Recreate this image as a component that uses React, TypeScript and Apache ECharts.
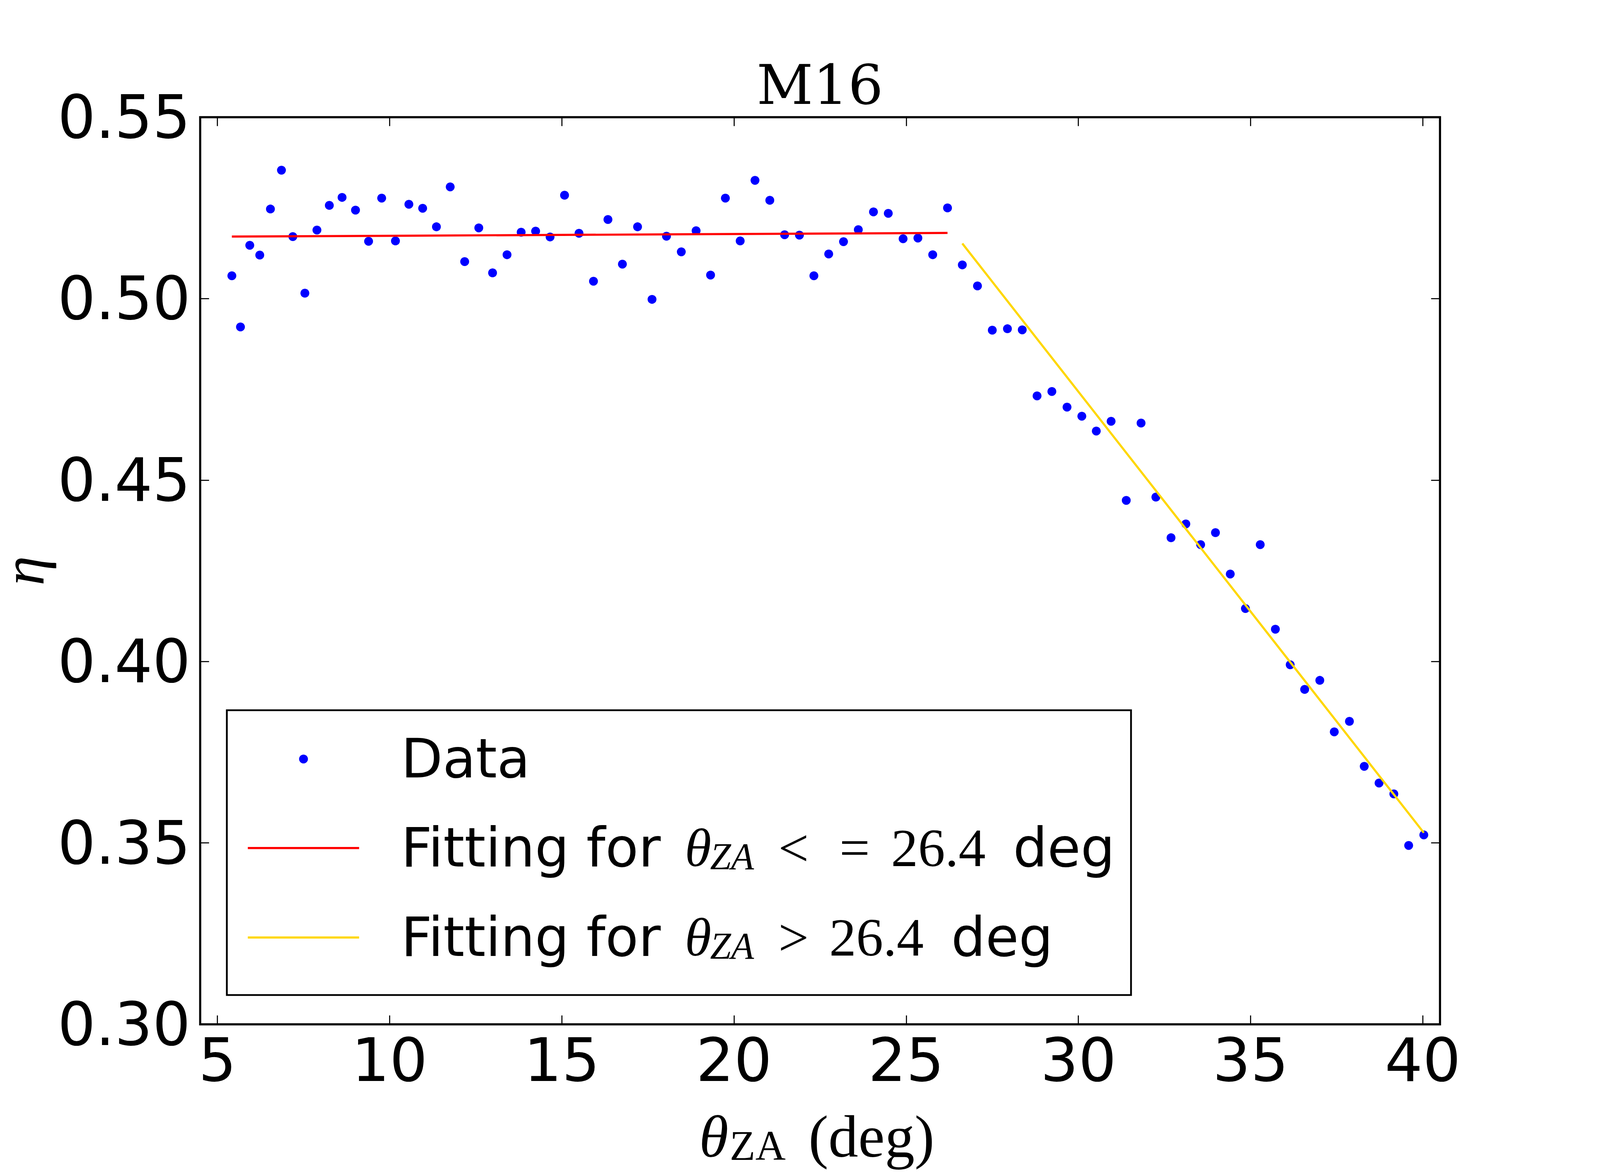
import React, { useEffect, useRef } from 'react';
import * as echarts from 'echarts';

// Zenith angle (deg) of each measurement
const thetaZA = [
  5.42, 5.67, 5.94, 6.23, 6.54, 6.86, 7.19, 7.54, 7.89, 8.25, 8.62, 9.01, 9.39, 9.77,
  10.17, 10.56, 10.96, 11.36, 11.76, 12.18, 12.59, 12.99, 13.41, 13.82,
  14.24, 14.66, 15.08, 15.50, 15.92, 16.34, 16.76, 17.20, 17.62, 18.04, 18.47, 18.90,
  19.32, 19.75, 20.18, 20.61, 21.04, 21.47, 21.90, 22.32, 22.75,
  23.18, 23.61, 24.05, 24.48, 24.91, 25.34, 25.77, 26.20, 26.63, 27.07, 27.50, 27.94,
  28.37, 28.80, 29.23, 29.67,
  30.10, 30.52, 30.95, 31.39, 31.82, 32.25, 32.69, 33.12, 33.55, 33.98, 34.41, 34.85, 35.28,
  35.72, 36.15, 36.57, 37.01, 37.43, 37.87, 38.30, 38.73, 39.16, 39.59, 40.03,
];
// Efficiency eta of each measurement
const eta = [
  0.5063, 0.4922, 0.5147, 0.5120, 0.5247, 0.5354, 0.5171, 0.5015, 0.5189, 0.5257, 0.5279, 0.5244, 0.5158, 0.5277,
  0.5159, 0.5260, 0.5249, 0.5198, 0.5308, 0.5102, 0.5195, 0.5071, 0.5121, 0.5183,
  0.5186, 0.5170, 0.5285, 0.5180, 0.5048, 0.5218, 0.5095, 0.5198, 0.4998, 0.5172, 0.5129, 0.5187,
  0.5065, 0.5277, 0.5159, 0.5326, 0.5271, 0.5176, 0.5175, 0.5063, 0.5123,
  0.5157, 0.5190, 0.5239, 0.5235, 0.5165, 0.5167, 0.5121, 0.5250, 0.5093, 0.5035, 0.4913, 0.4917,
  0.4914, 0.4732, 0.4744, 0.4701,
  0.4676, 0.4635, 0.4662, 0.4444, 0.4657, 0.4453, 0.4341, 0.4379, 0.4322, 0.4355, 0.4241, 0.4146, 0.4322,
  0.4089, 0.3991, 0.3923, 0.3948, 0.3806, 0.3835, 0.3711, 0.3665, 0.3635, 0.3493, 0.3522,
];
// Linear fits
const fitLowX = [5.42, 26.2];
const fitLowY = [0.5171, 0.5181];
const fitHighX = [26.63, 40.03];
const fitHighY = [0.5152, 0.3528];

const xTicks = [5, 10, 15, 20, 25, 30, 35, 40];
const yTicks = [0.3, 0.35, 0.4, 0.45, 0.5, 0.55];
const yTickLabels = ['0.30', '0.35', '0.40', '0.45', '0.50', '0.55'];

const NAME_DATA = 'Data';
const NAME_LOW = 'Fitting for θZA <= 26.4 deg';
const NAME_HIGH = 'Fitting for θZA > 26.4 deg';

const SANS = 'DejaVu Sans';
const MATH = 'Liberation Serif';

export default function App() {
  const ref = useRef<HTMLDivElement>(null);
  useEffect(() => {
    const el = ref.current;
    if (!el) return;
    const W = el.clientWidth || 4500;
    const H = el.clientHeight || 3000;
    // layout designed on a 4500 x 3000 canvas, mapped onto the real viewport
    const sx = W / 4500;
    const sy = H / 3000;
    const X = (v: number) => v * sx;
    const Y = (v: number) => v * sy;
    const S = (v: number) => v * sx;

    const chart = echarts.init(el, undefined, { renderer: 'svg' });

    // legend text
    const LF = S(152);
    const mk = (o: any) => ({ fontSize: LF, lineHeight: LF, fontFamily: SANS, color: '#000', ...o });
    const dataIconW = S(25);
    const dataLeft = X(853.6) - dataIconW / 2;
    const lineLeft = X(697);
    const lineIconW = X(313);
    const textStart = X(1128);
    const legRich = {
      spD: mk({ width: textStart - (dataLeft + dataIconW + 5) }),
      spL: mk({ width: textStart - (lineLeft + lineIconW + 5) }),
      a: mk({}),
      ff: mk({ width: S(798) }),
      th: mk({ fontFamily: MATH, fontStyle: 'italic', width: S(71) }),
      sub: mk({ fontFamily: MATH, fontStyle: 'italic', fontSize: S(106), lineHeight: S(68), width: S(192), verticalAlign: 'bottom' }),
      lt: mk({ fontFamily: MATH, width: S(172) }),
      eq: mk({ fontFamily: MATH, width: S(145) }),
      gt: mk({ fontFamily: MATH, width: S(143) }),
      num: mk({ fontFamily: MATH, width: S(295) }),
      deg: mk({}),
    };
    const legendBase = {
      orient: 'vertical',
      padding: 0,
      selectedMode: false,
      textStyle: { color: '#000', fontSize: LF, fontFamily: SANS, rich: legRich },
      itemStyle: { borderWidth: 0, opacity: 1 },
      z: 5,
    };

    // axis fonts
    const TF = S(168);
    const xNameTop = Y(2961) - 0.8375 * TF;
    const xRich = {
      th: { fontSize: TF, lineHeight: TF, fontFamily: MATH, fontStyle: 'italic', color: '#000', width: S(85) },
      sub: { fontSize: S(118), lineHeight: S(94), fontFamily: MATH, color: '#000', width: S(162), verticalAlign: 'bottom' },
      u: { fontSize: TF, lineHeight: TF, fontFamily: MATH, color: '#000', width: S(436) },
    };
    // eta (rotated), baseline placed as in the reference
    const etaLH = 0.6 * TF;
    const etaAnchor = X(122) + etaLH / 2 - 0.3375 * TF;

    const titleF = S(155);
    const tickLine = { color: '#000', width: S(3) };
    const tickLen = S(25);

    const option = {
      animation: false,
      backgroundColor: '#ffffff',
      title: {
        text: 'M16',
        left: X(2306),
        top: Y(266) - 0.846 * titleF,
        padding: 0,
        textAlign: 'center',
        textVerticalAlign: 'top',
        textStyle: { fontFamily: 'DejaVu Serif', fontSize: titleF, lineHeight: titleF, fontWeight: 'normal', color: '#000' },
      },
      grid: {
        left: X(563),
        top: Y(300),
        width: X(3487),
        height: Y(2322),
        show: true,
        borderColor: '#000',
        borderWidth: S(6),
        backgroundColor: 'transparent',
        containLabel: false,
        outerBoundsMode: 'none',
      },
      xAxis: [
        {
          type: 'value',
          position: 'bottom',
          min: 4.5,
          max: 40.5,
          axisLine: { show: false },
          splitLine: { show: false },
          axisTick: { show: true, inside: true, length: tickLen, lineStyle: tickLine, customValues: xTicks },
          axisLabel: {
            show: true,
            customValues: xTicks,
            margin: Y(2655) - Y(2622) - 0.117 * TF,
            fontSize: TF,
            lineHeight: TF,
            fontFamily: SANS,
            color: '#000',
            formatter: (v: number) => String(v),
          },
          name: '{th|θ}{sub|ZA}{u| (deg)}',
          nameLocation: 'middle',
          nameGap: xNameTop - Y(2622),
          nameTextStyle: { rich: xRich, fontSize: TF, lineHeight: TF, color: '#000' },
        },
        {
          type: 'value',
          position: 'top',
          min: 4.5,
          max: 40.5,
          axisLine: { show: false },
          splitLine: { show: false },
          axisTick: { show: true, inside: true, length: tickLen, lineStyle: tickLine, customValues: xTicks },
          axisLabel: { show: false },
        },
      ],
      yAxis: [
        {
          type: 'value',
          position: 'left',
          min: 0.3,
          max: 0.55,
          axisLine: { show: false },
          splitLine: { show: false },
          axisTick: { show: true, inside: true, length: tickLen, lineStyle: tickLine, customValues: yTicks },
          axisLabel: {
            show: true,
            customValues: yTicks,
            margin: X(27),
            fontSize: TF,
            lineHeight: TF,
            fontFamily: SANS,
            color: '#000',
            formatter: (v: number) => {
              const i = yTicks.findIndex((t) => Math.abs(t - v) < 1e-6);
              return i >= 0 ? yTickLabels[i] : v.toFixed(2);
            },
          },
          name: 'η',
          nameLocation: 'middle',
          nameRotate: 90,
          nameGap: X(563) - etaAnchor,
          nameTextStyle: { fontFamily: MATH, fontStyle: 'italic', fontSize: TF, lineHeight: etaLH, color: '#000' },
        },
        {
          type: 'value',
          position: 'right',
          min: 0.3,
          max: 0.55,
          axisLine: { show: false },
          splitLine: { show: false },
          axisTick: { show: true, inside: true, length: tickLen, lineStyle: tickLine, customValues: yTicks },
          axisLabel: { show: false },
        },
      ],
      legend: [
        {
          ...legendBase,
          left: dataLeft,
          top: Y(1943) - LF / 2,
          itemWidth: dataIconW,
          itemHeight: dataIconW,
          data: [{ name: NAME_DATA, icon: 'circle' }],
          formatter: () => '{spD| }{a|Data}',
        },
        {
          ...legendBase,
          left: lineLeft,
          top: Y(2171) - LF / 2,
          itemWidth: lineIconW,
          itemHeight: S(6),
          data: [{ name: NAME_LOW, icon: 'rect' }],
          formatter: () => '{spL| }{ff|Fitting for }{th|θ}{sub|ZA}{lt|<}{eq|=}{num|26.4}{deg| deg}',
        },
        {
          ...legendBase,
          left: lineLeft,
          top: Y(2400) - LF / 2,
          itemWidth: lineIconW,
          itemHeight: S(6),
          data: [{ name: NAME_HIGH, icon: 'rect' }],
          formatter: () => '{spL| }{ff|Fitting for }{th|θ}{sub|ZA}{gt|>}{num|26.4}{deg| deg}',
        },
      ],
      graphic: [
        {
          type: 'rect',
          z: 4,
          shape: { x: X(638), y: Y(1818), width: X(2543), height: Y(729) },
          style: { fill: '#ffffff', stroke: '#000000', lineWidth: S(5) },
        },
      ],
      series: [
        {
          name: NAME_DATA,
          type: 'scatter',
          xAxisIndex: 0,
          yAxisIndex: 0,
          symbol: 'circle',
          symbolSize: S(25),
          itemStyle: { color: '#0000ff', opacity: 1 },
          data: thetaZA.map((x, i) => [x, eta[i]]),
          z: 2,
        },
        {
          name: NAME_LOW,
          type: 'line',
          xAxisIndex: 0,
          yAxisIndex: 0,
          symbol: 'none',
          lineStyle: { color: '#ff0000', width: S(6) },
          itemStyle: { color: '#ff0000' },
          data: fitLowX.map((x, i) => [x, fitLowY[i]]),
          z: 3,
        },
        {
          name: NAME_HIGH,
          type: 'line',
          xAxisIndex: 0,
          yAxisIndex: 0,
          symbol: 'none',
          lineStyle: { color: '#ffd700', width: S(6) },
          itemStyle: { color: '#ffd700' },
          data: fitHighX.map((x, i) => [x, fitHighY[i]]),
          z: 3,
        },
      ],
    };

    chart.setOption(option as any);
    return () => {
      chart.dispose();
    };
  }, []);

  return (
    <div
      ref={ref}
      style={{ position: 'absolute', left: 0, top: 0, width: '100vw', height: '100vh', background: '#ffffff' }}
    />
  );
}
